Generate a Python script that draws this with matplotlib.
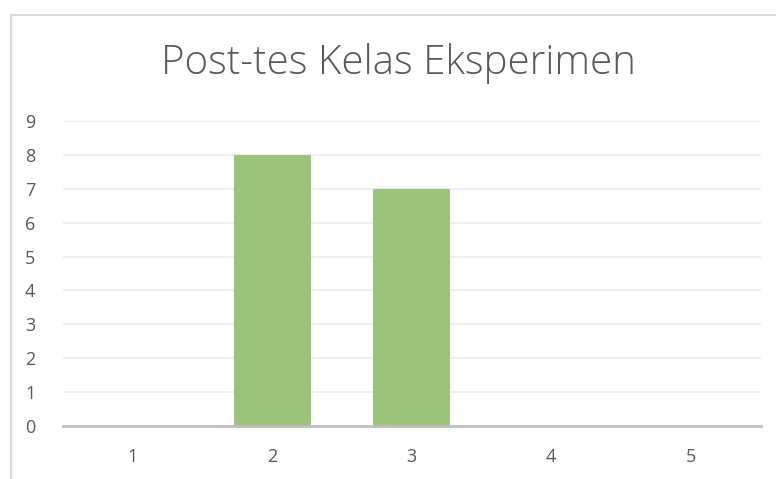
"""Post-test score distribution for the experimental class (Excel-style bar chart)."""
import matplotlib.pyplot as plt
from matplotlib.lines import Line2D

categories = ["1", "2", "3", "4", "5"]
counts = [0, 8, 7, 0, 0]
y_ticks = list(range(0, 10))

BAR = "#9bc47a"
INK = "#595959"
GRID = "#ececec"
AXIS = "#bfbfbf"
BORDER = "#d9d9d9"

W, H = 776, 479


def main():
    plt.rcParams["font.family"] = ["Open Sans", "DejaVu Sans"]
    fig = plt.figure(figsize=(W / 100, H / 100), dpi=100)
    fig.patch.set_facecolor("white")

    # chart area border (cropped on right and bottom)
    fig.add_artist(Line2D([11 / W, 11 / W], [0, 1 - 15 / H],
                          transform=fig.transFigure, color=BORDER, lw=1.5))
    fig.add_artist(Line2D([11 / W, 1], [1 - 15 / H, 1 - 15 / H],
                          transform=fig.transFigure, color=BORDER, lw=1.5))

    left, right = 63 / W, 760.5 / W
    bottom, top = 1 - 426 / H, 1 - 121 / H
    ax = fig.add_axes([left, bottom, right - left, top - bottom])

    x = range(len(categories))
    ax.bar(x, counts, width=0.55, color=BAR, zorder=3)

    ax.set_xlim(-0.5, len(categories) - 0.5)
    ax.set_ylim(0, 9)
    ax.set_yticks(y_ticks)
    ax.set_xticks(list(x))
    ax.set_xticklabels(categories)

    ax.grid(axis="y", color=GRID, lw=1.2, zorder=0)
    ax.set_axisbelow(True)
    for s in ("top", "right", "left"):
        ax.spines[s].set_visible(False)
    ax.spines["bottom"].set_color(AXIS)
    ax.spines["bottom"].set_linewidth(2)
    ax.spines["bottom"].set_zorder(4)

    ax.tick_params(axis="both", length=0, labelsize=13, colors=INK)
    ax.tick_params(axis="y", pad=20)
    ax.tick_params(axis="x", pad=16)

    fig.text(398 / W, 1 - 63 / H, "Post-tes Kelas Eksperimen",
             ha="center", va="center", fontsize=29, color=INK,
             fontweight="light")

    fig.savefig("out.png", dpi=100)


if __name__ == "__main__":
    main()
